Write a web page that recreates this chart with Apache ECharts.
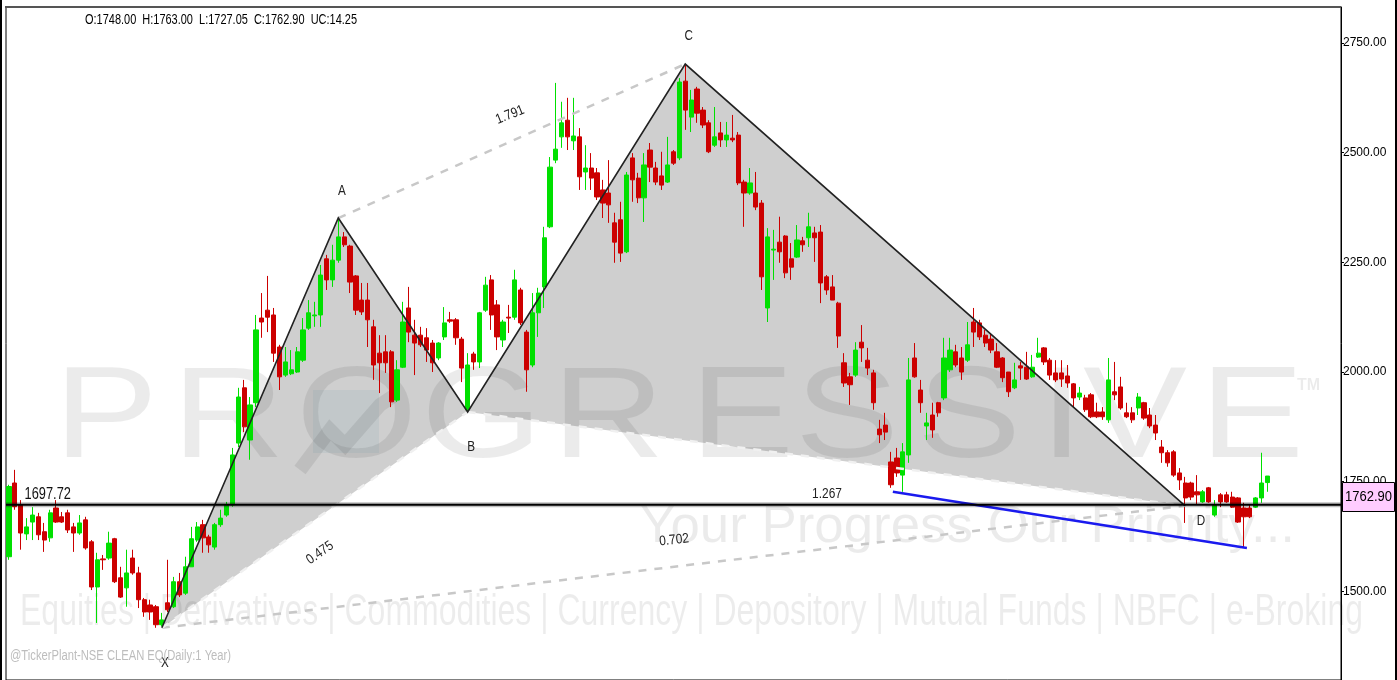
<!DOCTYPE html>
<html><head><meta charset="utf-8">
<script src="https://cdn.jsdelivr.net/npm/echarts@6/dist/echarts.min.js"></script>
<style>html,body{margin:0;padding:0;background:#fff;overflow:hidden}#c{width:1397px;height:680px}</style>
</head><body><div id="c"></div><script>
// ---------- data ----------
const openP = [1579,1747,1697,1631,1658,1670,1636,1622,1690,1670,
1679,1647,1633,1663,1613,1510,1574,1576,1620,1531,
1508,1576,1542,1481,1469,1465,1424,1474,1465,1522,
1496,1556,1617,1652,1624,1601,1652,1674,1697,1838,
1964,1845,1930,2123,2141,2130,2057,1993,1996,2000,
2027,2100,2128,2130,2258,2210,2255,2308,2287,2219,
2164,2164,2103,2043,2046,2046,1936,2011,2146,2084,
2084,2078,2066,2032,2080,2119,2119,2075,1914,2041,
2023,2141,2210,2153,2073,2125,2125,2187,2091,2016,
2135,2194,2331,2483,2536,2574,2527,2536,2456,2465,
2454,2415,2408,2340,2347,2274,2488,2442,2397,2506,
2465,2447,2433,2502,2488,2663,2581,2645,2597,2568,
2517,2545,2529,2533,2540,2433,2408,2408,2385,2146,
2278,2296,2310,2258,2262,2299,2306,2317,2319,2217,
2194,2157,2021,1989,1993,2068,2027,1998,1870,1879,
1795,1804,1765,1811,2032,1959,1877,1902,1930,1941,
2005,2046,2032,2027,2114,2112,2084,2075,2046,2032,
2000,1964,2014,2011,1989,2034,2055,2027,1998,1998,
1991,1973,1943,1941,1948,1909,1909,1891,1955,1966,
1907,1907,1918,1930,1902,1879,1829,1816,1818,1770,
1747,1747,1727,1704,1736,1674,1720,1720,1715,1713,
1690,1690,1692,1713,1748];
const highP = [1743,1777,1708,1667,1692,1679,1656,1686,1708,1681,
1686,1656,1674,1670,1617,1588,1583,1636,1622,1556,
1595,1595,1556,1485,1481,1469,1451,1572,1533,1542,
1579,1647,1658,1663,1629,1656,1686,1704,1827,1964,
1982,1943,2130,2180,2219,2146,2062,2057,2050,2057,
2123,2164,2160,2244,2267,2290,2351,2319,2290,2221,
2203,2203,2119,2084,2084,2050,2027,2160,2194,2119,
2103,2100,2073,2068,2148,2137,2123,2080,2043,2046,
2137,2217,2221,2164,2119,2153,2233,2192,2096,2180,
2192,2331,2490,2659,2616,2625,2625,2556,2517,2499,
2465,2438,2483,2363,2388,2456,2499,2454,2499,2522,
2479,2502,2536,2506,2670,2702,2643,2650,2604,2574,
2604,2570,2570,2586,2547,2438,2465,2456,2392,2328,
2324,2354,2312,2294,2335,2308,2363,2331,2335,2221,
2221,2160,2043,1998,2068,2107,2055,2005,1891,1907,
1818,1827,1838,2032,2066,1982,1907,1930,1932,2078,
2078,2062,2057,2114,2146,2119,2096,2089,2066,2034,
2000,2021,2023,2046,2039,2078,2057,2032,2027,2027,
2016,1975,1966,1948,1952,1930,1920,2032,2023,1989,
1930,1920,1952,1932,1918,1902,1845,1822,1822,1781,
1761,1750,1765,1731,1738,1708,1724,1727,1727,1715,
1702,1697,1715,1816,1763];
const lowP = [1572,1686,1595,1617,1617,1617,1590,1613,1656,1656,
1633,1590,1629,1595,1503,1428,1549,1572,1519,1485,
1465,1538,1462,1442,1435,1417,1419,1453,1462,1487,
1492,1556,1613,1588,1588,1595,1647,1670,1693,1829,
1863,1800,1920,2078,2091,2023,1959,1989,1993,1998,
2023,2096,2103,2103,2187,2194,2249,2285,2180,2130,
2130,2057,1982,1952,1998,1920,1932,2009,2068,1993,
2057,2023,2000,2027,2073,2112,2062,1977,1909,2005,
2009,2137,2096,2050,2057,2089,2119,2107,1955,2011,
2080,2146,2328,2476,2511,2506,2506,2415,2415,2415,
2392,2351,2340,2249,2251,2271,2388,2385,2342,2433,
2426,2415,2431,2472,2483,2552,2547,2568,2556,2499,
2513,2513,2513,2524,2426,2331,2404,2369,2187,2114,
2210,2249,2214,2210,2260,2274,2285,2251,2157,2176,
2164,2055,1966,1925,1989,2023,1993,1914,1838,1845,
1736,1761,1727,1793,1987,1907,1845,1850,1898,1936,
2000,2011,1982,2023,2057,2073,2057,2043,2009,1977,
1943,1961,1982,1982,1987,2032,2016,1982,1977,1966,
1964,1920,1936,1909,1895,1895,1891,1884,1936,1914,
1895,1884,1902,1891,1872,1845,1793,1784,1761,1731,
1656,1708,1697,1702,1702,1670,1692,1702,1690,1656,
1599,1667,1690,1702,1727.05];
const closeP = [1739,1693,1633,1647,1674,1629,1617,1679,1658,1658,
1640,1633,1656,1599,1510,1572,1572,1610,1522,1487,
1542,1542,1481,1453,1453,1424,1435,1458,1522,1492,
1556,1620,1647,1622,1606,1652,1667,1697,1811,1943,
1875,1925,2096,2114,2125,2043,1989,2023,2005,2046,
2096,2135,2130,2221,2210,2255,2308,2290,2205,2141,
2137,2119,2016,2021,2021,1932,2005,2114,2091,2066,
2062,2050,2021,2066,2112,2116,2078,2009,2016,2023,
2135,2198,2130,2080,2114,2123,2210,2112,2005,2135,
2180,2306,2467,2508,2568,2536,2538,2445,2465,2442,
2399,2385,2381,2296,2271,2449,2438,2397,2472,2467,
2433,2426,2472,2476,2661,2597,2620,2590,2563,2502,
2536,2529,2540,2529,2431,2408,2431,2376,2217,2308,
2280,2274,2226,2239,2301,2290,2331,2306,2203,2187,
2164,2082,1975,1971,2050,2055,2009,1930,1857,1863,
1743,1770,1818,1982,1989,1930,1884,1868,1907,2032,
2050,2016,2000,2062,2091,2080,2066,2050,2011,1987,
1955,1982,2009,1984,2011,2043,2023,1993,1982,1984,
1975,1941,1952,1914,1898,1898,1898,1982,1948,1918,
1898,1891,1943,1895,1877,1861,1816,1793,1765,1754,
1713,1715,1720,1727,1704,1697,1704,1704,1692,1658,
1670,1670,1713,1747,1762.90];
const slotCount = 227;              // candle slots across the plot (last ones empty)
const yTicks = [1500, 1750, 2000, 2250, 2500, 2750];
const yMin = 1298, yMax = 2832;

// harmonic pattern points X A B C D (bar index, price)
const pointNames = ['X','A','B','C','D'];
const pointIdx   = [26, 56, 78, 115, 200];
const pointPrice = [1417, 2351, 1909, 2702, 1695];
// where the point letters are written
const letterIdx   = [26.5, 56.6, 78.6, 115.6, 202.7];
const letterPrice = [1337, 2413, 1829, 2766, 1661];
// ratio labels
const ratioText  = ['0.475','1.791','0.702','1.267'];
const ratioIdx   = [52.9, 85.2, 113.1, 139.1];
const ratioPrice = [1588, 2586, 1617, 1722];
const ratioRot   = [35, 22, 6, 0];
// horizontal level
const levelPrice = 1697.72;
const levelLabelIdx = 6.6, levelLabelPrice = 1720;
// blue trend line
const blueIdx   = [150.3, 210.5];
const bluePrice = [1727, 1599];
// quote header
const quoteO = 1748.00, quoteH = 1763.00, quoteL = 1727.05, quoteC = 1762.90, quoteUC = 14.25;

// ---------- build ----------
const categories = [];
for (let i = 0; i < slotCount; i++) categories.push(String(i + 1));
const candles = openP.map((o, i) => [o, closeP[i], lowP[i], highP[i]]);

const SANS = "'Liberation Sans', Arial, sans-serif";
const mctx = document.createElement('canvas').getContext('2d');
function fitScale(text, font, w) { mctx.font = font; return w / mctx.measureText(text).width; }

function coordAt(api, idx, price) {
  const i = Math.floor(idx), f = idx - i;
  const a = api.coord([i, price]);
  const b = api.coord([i + 1, price]);
  return [a[0] + (b[0] - a[0]) * f, a[1]];
}

// polygons: XAB and BCD
const polys = [[0,1,2],[2,3,4]];
// line items
const lineItems = [
  {kind:'dash', a:0, b:4, color:'#c8c8c8'}, // X-D
  {kind:'dash', a:1, b:3, color:'#c8c8c8'}, // A-C
  {kind:'dash', a:0, b:2, color:'#f0f0f0'}, // X-B
  {kind:'dash', a:2, b:4, color:'#f0f0f0'}, // B-D
  {kind:'pattern'},
  {kind:'blue'},
  {kind:'level'}
];
const textItems = [];
pointNames.forEach((n, k) => textItems.push({t:n, i:letterIdx[k], p:letterPrice[k], rot:0, font:'15px ' + SANS, sx:0.78, fill:'#222'}));
ratioText.forEach((t, k) => textItems.push({t:t, i:ratioIdx[k], p:ratioPrice[k], rot:ratioRot[k], font:'14px ' + SANS, sx:0.85, fill:'#222'}));
textItems.push({t:levelPrice.toFixed(2), i:levelLabelIdx, p:levelLabelPrice, rot:0, font:'16px ' + SANS, sx:0.8, fill:'#111'});

const WM = 'rgba(0,0,0,0.08)';
const wmLetters = ['P','R','O','G','R','E','S','S','I','V','E'];
const wmLeft = [54,172,296,421,552,690,795,917,1040,1083,1200];
const graphics = [];
wmLetters.forEach((L, k) => graphics.push({type:'text', x:wmLeft[k], y:421, scaleX:1.2, z:2, silent:true,
  style:{text:L, font:'130px ' + SANS, fill:WM, verticalAlign:'middle', align:'left'}}));
graphics.push({type:'text', x:1297, y:386, z:2, silent:true, style:{text:'TM', font:'bold 16px ' + SANS, fill:WM, verticalAlign:'middle'}});
// logo box inside the O
graphics.push({type:'rect', z:2, silent:true, shape:{x:313, y:390, width:66, height:63}, style:{fill:'rgba(90,150,170,0.10)'}});
graphics.push({type:'polyline', z:2, silent:true, shape:{points:[[300,470],[330,430],[345,445],[380,405],[395,395]]}, style:{stroke:WM, lineWidth:14, fill:null}});
const tag = 'Your Progress Our Priority...';
const tagFont = '52px ' + SANS;
graphics.push({type:'text', x:640, y:528, scaleX:fitScale(tag, tagFont, 655), z:2, silent:true, style:{text:tag, font:tagFont, fill:WM, verticalAlign:'middle'}});
const svc = 'Equities | Derivatives | Commodities | Currency | Depository | Mutual Funds | NBFC | e-Broking';
const svcFont = '44px ' + SANS;
graphics.push({type:'text', x:20, y:613, scaleX:fitScale(svc, svcFont, 1343), z:2, silent:true, style:{text:svc, font:svcFont, fill:'rgba(0,0,0,0.075)', verticalAlign:'middle'}});
// header & footer
const header = 'O:' + quoteO.toFixed(2) + '  H:' + quoteH.toFixed(2) + '  L:' + quoteL.toFixed(2) + '  C:' + quoteC.toFixed(2) + '  UC:' + quoteUC.toFixed(2);
const hFont = '15px ' + SANS;
graphics.push({type:'text', x:85, y:20, scaleX:fitScale(header, hFont, 272), z:10, style:{text:header, font:hFont, fill:'#000', verticalAlign:'middle'}});
const foot = '@TickerPlant-NSE CLEAN EQ(Daily:1 Year)';
const fFont = '14px ' + SANS;
graphics.push({type:'text', x:10, y:656, scaleX:fitScale(foot, fFont, 221), z:10, style:{text:foot, font:fFont, fill:'#bdbdbd', verticalAlign:'middle'}});
// frame
graphics.push({type:'line', z:10, shape:{x1:1, y1:0, x2:1, y2:680}, style:{stroke:'#000', lineWidth:2}});
graphics.push({type:'line', z:10, shape:{x1:1396, y1:0, x2:1396, y2:680}, style:{stroke:'#000', lineWidth:2}});
graphics.push({type:'line', z:10, shape:{x1:5, y1:7, x2:1341, y2:7}, style:{stroke:'#555', lineWidth:2}});
// last price box
const lastText = closeP[closeP.length - 1].toFixed(2);
const boxFont = '14px ' + SANS;
graphics.push({type:'rect', z:20, shape:{x:1342.5, y:482.5, width:52, height:29}, style:{fill:'#ffccff', stroke:'#000', lineWidth:1}});
graphics.push({type:'text', z:21, x:1345, y:497, scaleX:fitScale(lastText, boxFont, 47), style:{text:lastText, font:boxFont, fill:'#000', align:'left', verticalAlign:'middle'}});

const option = {
  animation: false,
  backgroundColor: '#fff',
  grid: {left: 6, top: 7, right: 56, bottom: 0, show: true, borderColor: '#000', borderWidth: 1, backgroundColor: 'transparent'},
  xAxis: {type: 'category', data: categories, boundaryGap: true, show: false},
  yAxis: {type: 'value', position: 'right', min: yMin, max: yMax,
    axisLine: {show: true, lineStyle: {color: '#000', width: 1}},
    axisTick: {show: true, length: 3, lineStyle: {color: '#000'}, customValues: yTicks},
    splitLine: {show: false},
    axisLabel: {color: '#000', fontSize: 12, fontFamily: SANS, margin: 2, customValues: yTicks, formatter: v => Number(v).toFixed(2)}},
  graphic: graphics,
  series: [
    {type: 'custom', name: 'fill', z: 1, silent: true, clip: false,
      data: polys.map((p, i) => [i, 2000]),
      renderItem: (params, api) => {
        const pts = polys[params.dataIndex].map(k => coordAt(api, pointIdx[k], pointPrice[k]));
        return {type: 'polygon', shape: {points: pts}, style: {fill: '#cfcfcf', stroke: null}};
      }},
    {type: 'candlestick', name: 'price', z: 3, data: candles, barWidth: '80%',
      itemStyle: {color: '#00e000', color0: '#cc0000', borderColor: '#00e000', borderColor0: '#cc0000', borderWidth: 1}},
    {type: 'custom', name: 'lines', z: 4, silent: true, clip: false,
      data: lineItems.map((p, i) => [i, 2000]),
      renderItem: (params, api) => {
        const it = lineItems[params.dataIndex];
        if (it.kind === 'pattern') {
          const pts = pointIdx.map((x, k) => coordAt(api, x, pointPrice[k]));
          return {type: 'polyline', shape: {points: pts}, style: {stroke: '#222', lineWidth: 1.6, fill: null}};
        }
        if (it.kind === 'dash') {
          const a = coordAt(api, pointIdx[it.a], pointPrice[it.a]);
          const b = coordAt(api, pointIdx[it.b], pointPrice[it.b]);
          return {type: 'line', shape: {x1: a[0], y1: a[1], x2: b[0], y2: b[1]}, style: {stroke: it.color, lineWidth: 2.5, lineDash: [8, 8]}};
        }
        if (it.kind === 'blue') {
          const a = coordAt(api, blueIdx[0], bluePrice[0]);
          const b = coordAt(api, blueIdx[1], bluePrice[1]);
          return {type: 'line', shape: {x1: a[0], y1: a[1], x2: b[0], y2: b[1]}, style: {stroke: '#1a1aee', lineWidth: 2.5}};
        }
        const cs = params.coordSys;
        const y = api.coord([0, levelPrice])[1];
        return {type: 'group', children: [
          {type: 'line', shape: {x1: cs.x, y1: y, x2: cs.x + cs.width, y2: y}, style: {stroke: 'rgba(0,0,0,0.25)', lineWidth: 5}},
          {type: 'line', shape: {x1: cs.x, y1: y, x2: cs.x + cs.width, y2: y}, style: {stroke: '#000', lineWidth: 2}}
        ]};
      }},
    {type: 'custom', name: 'labels', z: 5, silent: true, clip: false,
      data: textItems.map((p, i) => [i, 2000]),
      renderItem: (params, api) => {
        const it = textItems[params.dataIndex];
        const c = coordAt(api, it.i, it.p);
        return {type: 'text', x: c[0], y: c[1], rotation: it.rot * Math.PI / 180, scaleX: it.sx,
          style: {text: it.t, font: it.font, fill: it.fill, align: 'center', verticalAlign: 'middle'}};
      }}
  ]
};
const chart = echarts.init(document.getElementById('c'));
chart.setOption(option);
</script></body></html>
